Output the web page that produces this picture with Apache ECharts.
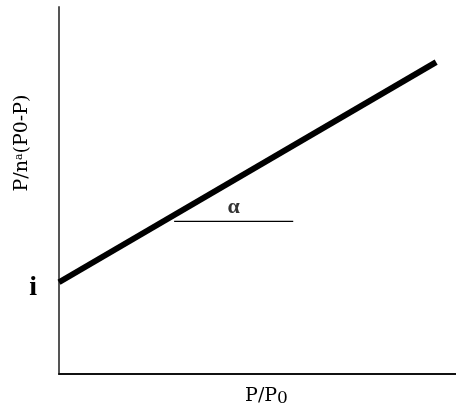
<!DOCTYPE html>
<html>
<head>
<meta charset="utf-8">
<script src="https://cdn.jsdelivr.net/npm/echarts@6/dist/echarts.min.js"></script>
<style>
  html, body { margin: 0; padding: 0; background: #fff; }
  #chart { width: 456px; height: 412px; }
</style>
</head>
<body>
<div id="chart"></div>
<script>
// BET-style plot: straight line, intercept i, slope angle alpha
var bestFit = [[0, 0.25], [0.95, 0.85]];
var slopeBase = [[0.29, 0.416], [0.59, 0.416]];
var alphaLabelAt = [[0.44, 0.455]];
var interceptTick = 0.25;

var myChart = echarts.init(document.getElementById("chart"));
var serif = "'Liberation Serif', 'DejaVu Serif', serif";
var wideSerif = "'DejaVu Serif', serif";

var opt = {
  animation: false,
  grid: { left: 59, top: 7, right: 0, bottom: 35 },
  xAxis: {
    type: "value",
    min: 0,
    max: 1,
    name: "{a|P/P}{s|0}",
    nameLocation: "middle",
    nameGap: 12,
    nameTextStyle: {
      padding: [0, 0, 0, 18],
      rich: {
        a: { fontFamily: wideSerif, fontSize: 19, color: "#000" },
        s: { fontFamily: wideSerif, fontSize: 17, color: "#000", padding: [4, 0, 0, 0] }
      }
    },
    axisLine: { lineStyle: { color: "#111", width: 2 } },
    axisTick: { show: false },
    axisLabel: { show: false },
    splitLine: { show: false }
  },
  yAxis: {
    type: "value",
    min: 0,
    max: 1,
    interval: interceptTick,
    axisLine: { show: true, lineStyle: { color: "#555", width: 2 } },
    axisTick: { show: false },
    splitLine: { show: false },
    axisLabel: {
      margin: 22,
      fontFamily: serif,
      fontWeight: "bold",
      fontSize: 28,
      color: "#000",
      verticalAlign: "top",
      padding: [-8, 0, 0, 0],
      formatter: function (v) { return v === interceptTick ? "i" : ""; }
    }
  },
  graphic: [
    {
      type: "text",
      x: 13,
      y: 143,
      rotation: Math.PI / 2,
      style: {
        text: "P/n{s|a}(P0-P)",
        fontFamily: wideSerif,
        fontSize: 19,
        fill: "#000",
        align: "center",
        verticalAlign: "top",
        rich: { s: { fontFamily: wideSerif, fontSize: 11, fill: "#000", padding: [0, 0, 7, 0] } }
      }
    }
  ],
  series: [
    {
      type: "line",
      data: bestFit,
      symbol: "none",
      lineStyle: { color: "#000", width: 6 }
    },
    {
      type: "line",
      data: slopeBase,
      symbol: "none",
      lineStyle: { color: "#000", width: 1.2 }
    },
    {
      type: "scatter",
      data: alphaLabelAt,
      symbolSize: 0,
      label: {
        show: true,
        position: "inside",
        formatter: "α",
        fontFamily: serif,
        fontWeight: "bold",
        fontSize: 22,
        color: "#000"
      }
    }
  ]
};

myChart.setOption(opt);
</script>
</body>
</html>
